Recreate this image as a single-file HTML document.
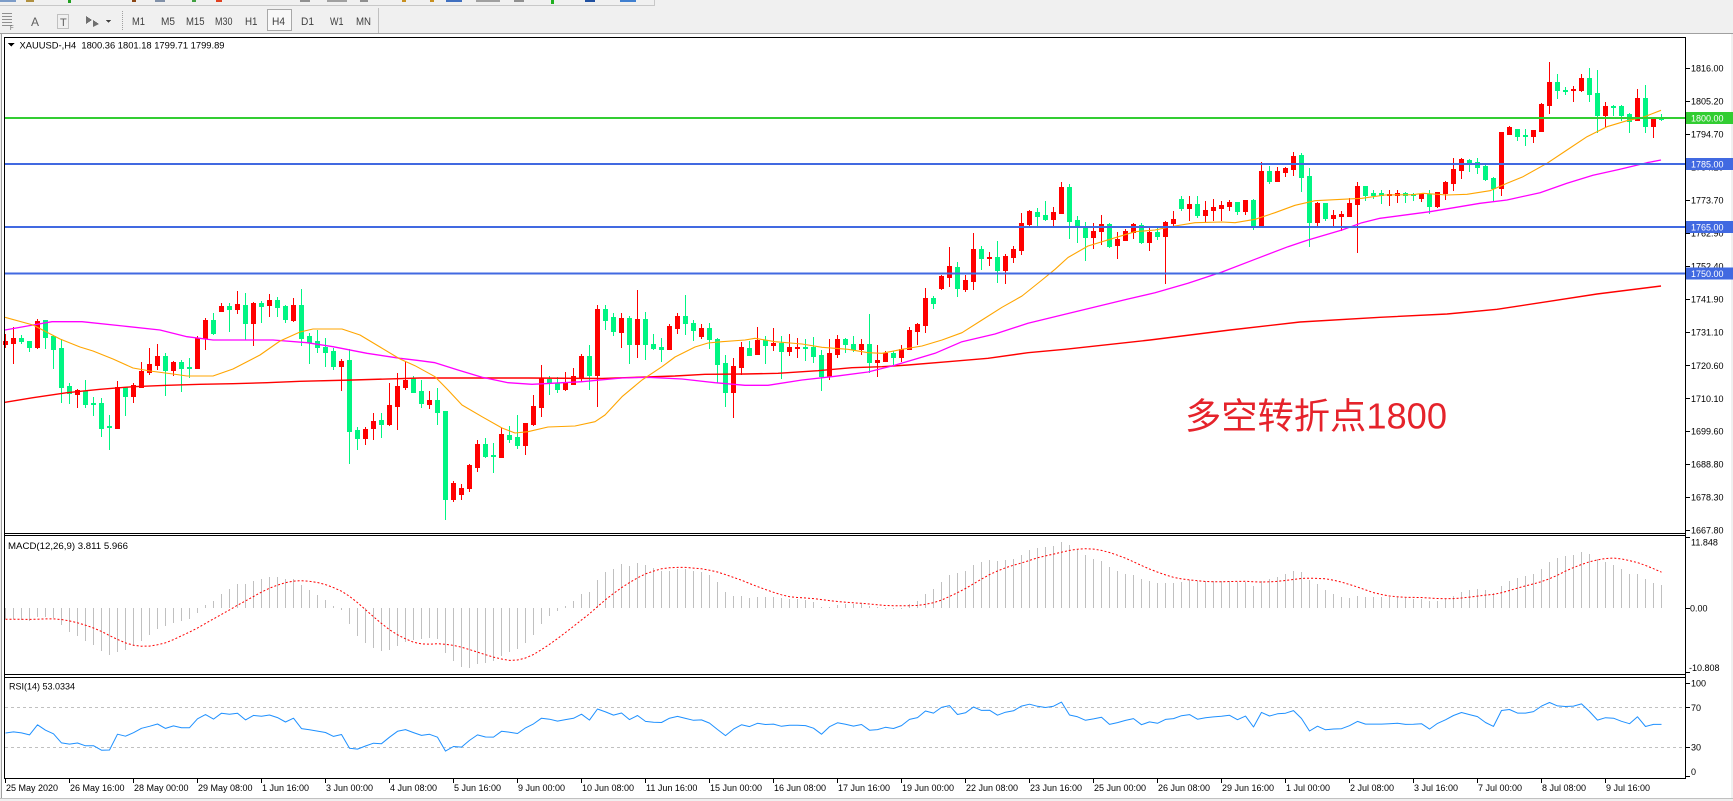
<!DOCTYPE html>
<html><head><meta charset="utf-8">
<style>
html,body{margin:0;padding:0;width:1733px;height:801px;overflow:hidden;background:#fff;}
svg{display:block;}
text{font-family:"Liberation Sans","Noto Sans CJK SC",sans-serif;}
</style></head>
<body>
<svg id="s" width="1733" height="801" xmlns="http://www.w3.org/2000/svg" shape-rendering="crispEdges">
<!-- toolbar -->
<rect x="0" y="0" width="1733" height="34" fill="#F0F0F0"/>
<line x1="0" y1="5.5" x2="654" y2="5.5" stroke="#C8C8C8"/>
<line x1="654.5" y1="0" x2="654.5" y2="6" stroke="#C8C8C8"/>
<rect x="0" y="0" width="16" height="2" fill="#7C9CC8"/>
<rect x="26" y="0" width="8" height="2" fill="#B09040"/>
<rect x="68" y="0" width="3" height="3" fill="#20A020"/>
<rect x="132" y="0" width="4" height="2" fill="#8B4513"/>
<rect x="155" y="0" width="10" height="2" fill="#8090A8"/>
<rect x="192" y="0" width="4" height="2" fill="#40A040"/>
<rect x="216" y="0" width="6" height="2" fill="#E04020"/>
<rect x="300" y="0" width="10" height="2" fill="#909090"/>
<rect x="327" y="0" width="20" height="2" fill="#A0A0A0"/>
<rect x="360" y="0" width="8" height="2" fill="#909090"/>
<rect x="402" y="0" width="4" height="2" fill="#C89020"/>
<rect x="430" y="0" width="4" height="2" fill="#C89020"/>
<rect x="446" y="0" width="16" height="2" fill="#4070C0"/>
<rect x="476" y="0" width="24" height="2" fill="#A0A0A0"/>
<rect x="514" y="0" width="10" height="2" fill="#909090"/>
<rect x="551" y="0" width="3" height="4" fill="#20B020"/>
<rect x="585" y="0" width="10" height="2" fill="#2050A0"/>
<rect x="620" y="0" width="16" height="2" fill="#4080D0"/>
<!-- second row -->
<g fill="#909090">
<rect x="2" y="13" width="10" height="1"/><rect x="2" y="16" width="10" height="1"/><rect x="2" y="19" width="10" height="1"/><rect x="2" y="22" width="10" height="1"/><rect x="2" y="25" width="10" height="1"/>
</g>
<text x="10" y="30" font-size="6" fill="#606060">F</text>
<text x="31" y="26" font-size="12" fill="#606060">A</text>
<rect x="57.5" y="14.5" width="11" height="14" fill="none" stroke="#909090" stroke-dasharray="1 1"/>
<text x="60" y="26" font-size="11" fill="#606060">T</text>
<path d="M86 16 L92 20 L86 24 Z M93 20 L99 24 L93 27 Z" fill="#707070"/>
<path d="M106 20 L111 20 L108.5 23 Z" fill="#404040"/>
<line x1="122.5" y1="11" x2="122.5" y2="31" stroke="#A0A0A0" stroke-dasharray="1 1"/>
<g font-size="11" fill="#404040">
<text x="132" y="25" textLength="13" lengthAdjust="spacingAndGlyphs">M1</text>
<text x="161" y="25" textLength="14" lengthAdjust="spacingAndGlyphs">M5</text>
<text x="186" y="25" textLength="18.5" lengthAdjust="spacingAndGlyphs">M15</text>
<text x="215" y="25" textLength="17.5" lengthAdjust="spacingAndGlyphs">M30</text>
<text x="245" y="25" textLength="12.5" lengthAdjust="spacingAndGlyphs">H1</text>
<rect x="267.5" y="9.5" width="24" height="21" fill="#F8F8F8" stroke="#A8A8A8"/>
<text x="272" y="25" textLength="13" lengthAdjust="spacingAndGlyphs">H4</text>
<text x="301" y="25" textLength="13" lengthAdjust="spacingAndGlyphs">D1</text>
<text x="330" y="25" textLength="13.5" lengthAdjust="spacingAndGlyphs">W1</text>
<text x="356" y="25" textLength="15" lengthAdjust="spacingAndGlyphs">MN</text>
</g>
<line x1="378.5" y1="8" x2="378.5" y2="33" stroke="#C0C0C0"/>
<line x1="0" y1="33.5" x2="1733" y2="33.5" stroke="#A0A0A0"/>
<!-- window edges -->
<rect x="0" y="34" width="1" height="767" fill="#F0F0F0"/>
<rect x="1" y="34" width="1" height="767" fill="#A0A0A0"/>
<rect x="1731" y="34" width="2" height="767" fill="#F0F0F0"/>
<rect x="0" y="798" width="1733" height="3" fill="#F0F0F0"/>
<line x1="0" y1="798.5" x2="1733" y2="798.5" stroke="#C0C0C0"/>

<g id="dyn"></g>

<!-- frames -->
<g stroke="#000" stroke-width="1" fill="none">
<line x1="4" y1="37.5" x2="1686" y2="37.5"/>
<line x1="4" y1="533.5" x2="1686" y2="533.5"/>
<line x1="4" y1="535.5" x2="1686" y2="535.5"/>
<line x1="4" y1="674.5" x2="1686" y2="674.5"/>
<line x1="4" y1="677.5" x2="1686" y2="677.5"/>
<line x1="4" y1="778.5" x2="1686" y2="778.5"/>
<line x1="4.5" y1="37" x2="4.5" y2="779"/>
<line x1="1685.5" y1="37" x2="1685.5" y2="779"/>
</g>

<!-- header texts -->
<path d="M8 43 L14.5 43 L11.25 46.7 Z" fill="#000"/>
<text x="19.5" y="48.3" font-size="9" fill="#000" textLength="205" lengthAdjust="spacingAndGlyphs">XAUUSD-,H4&#160;&#160;1800.36 1801.18 1799.71 1799.89</text>
<text x="8" y="549" font-size="9" fill="#000" textLength="120" lengthAdjust="spacingAndGlyphs">MACD(12,26,9) 3.811 5.966</text>
<text x="9" y="689.3" font-size="9" fill="#000">RSI(14) 53.0334</text>

<!-- price axis labels -->
<g font-size="9" fill="#000">
<text x="1691" y="71.6">1816.00</text>
<text x="1691" y="104.3">1805.20</text>
<text x="1691" y="137.6">1794.70</text>
<text x="1691" y="170.6">1784.20</text>
<text x="1691" y="203.6">1773.70</text>
<text x="1691" y="236.6">1762.90</text>
<text x="1691" y="269.6">1752.40</text>
<text x="1691" y="302.6">1741.90</text>
<text x="1691" y="335.6">1731.10</text>
<text x="1691" y="369">1720.60</text>
<text x="1691" y="402">1710.10</text>
<text x="1691" y="434.6">1699.60</text>
<text x="1691" y="467.6">1688.80</text>
<text x="1691" y="500.6">1678.30</text>
<text x="1691" y="533.6">1667.80</text>
<text x="1691" y="545.6">11.848</text>
<text x="1690" y="611.6">0.00</text>
<text x="1689" y="671">-10.808</text>
<text x="1691" y="686.6">100</text>
<text x="1691" y="711">70</text>
<text x="1691" y="750.3">30</text>
<text x="1691" y="775">0</text>
</g>
<g stroke="#000">
<line x1="1686" y1="68.5" x2="1690" y2="68.5"/><line x1="1686" y1="101.5" x2="1690" y2="101.5"/>
<line x1="1686" y1="134.5" x2="1690" y2="134.5"/><line x1="1686" y1="167.5" x2="1690" y2="167.5"/>
<line x1="1686" y1="200.5" x2="1690" y2="200.5"/><line x1="1686" y1="233.5" x2="1690" y2="233.5"/>
<line x1="1686" y1="266.5" x2="1690" y2="266.5"/><line x1="1686" y1="299.5" x2="1690" y2="299.5"/>
<line x1="1686" y1="332.5" x2="1690" y2="332.5"/><line x1="1686" y1="365.5" x2="1690" y2="365.5"/>
<line x1="1686" y1="398.5" x2="1690" y2="398.5"/><line x1="1686" y1="431.5" x2="1690" y2="431.5"/>
<line x1="1686" y1="464.5" x2="1690" y2="464.5"/><line x1="1686" y1="497.5" x2="1690" y2="497.5"/>
<line x1="1686" y1="530.5" x2="1690" y2="530.5"/>
<line x1="1686" y1="537.5" x2="1690" y2="537.5"/><line x1="1686" y1="608.5" x2="1690" y2="608.5"/>
<line x1="1686" y1="672.5" x2="1690" y2="672.5"/>
<line x1="1686" y1="683.5" x2="1690" y2="683.5"/><line x1="1686" y1="707.5" x2="1690" y2="707.5"/>
<line x1="1686" y1="747.5" x2="1690" y2="747.5"/><line x1="1686" y1="776.5" x2="1690" y2="776.5"/>
</g>

<!-- level boxes -->
<rect x="1686" y="112" width="47" height="12" fill="#32CD32"/>
<text x="1691" y="121.3" font-size="9" fill="#fff">1800.00</text>
<rect x="1686" y="158" width="47" height="12" fill="#4169E1"/>
<text x="1691" y="167.3" font-size="9" fill="#fff">1785.00</text>
<rect x="1686" y="221" width="47" height="12" fill="#4169E1"/>
<text x="1691" y="230.3" font-size="9" fill="#fff">1765.00</text>
<rect x="1686" y="267.5" width="47" height="12" fill="#4169E1"/>
<text x="1691" y="276.8" font-size="9" fill="#fff">1750.00</text>

<!-- time axis -->
<g font-size="9" fill="#000">
<text x="6" y="791">25 May 2020</text>
<text x="70" y="791">26 May 16:00</text>
<text x="134" y="791">28 May 00:00</text>
<text x="198" y="791">29 May 08:00</text>
<text x="262" y="791">1 Jun 16:00</text>
<text x="326" y="791">3 Jun 00:00</text>
<text x="390" y="791">4 Jun 08:00</text>
<text x="454" y="791">5 Jun 16:00</text>
<text x="518" y="791">9 Jun 00:00</text>
<text x="582" y="791">10 Jun 08:00</text>
<text x="646" y="791">11 Jun 16:00</text>
<text x="710" y="791">15 Jun 00:00</text>
<text x="774" y="791">16 Jun 08:00</text>
<text x="838" y="791">17 Jun 16:00</text>
<text x="902" y="791">19 Jun 00:00</text>
<text x="966" y="791">22 Jun 08:00</text>
<text x="1030" y="791">23 Jun 16:00</text>
<text x="1094" y="791">25 Jun 00:00</text>
<text x="1158" y="791">26 Jun 08:00</text>
<text x="1222" y="791">29 Jun 16:00</text>
<text x="1286" y="791">1 Jul 00:00</text>
<text x="1350" y="791">2 Jul 08:00</text>
<text x="1414" y="791">3 Jul 16:00</text>
<text x="1478" y="791">7 Jul 00:00</text>
<text x="1542" y="791">8 Jul 08:00</text>
<text x="1606" y="791">9 Jul 16:00</text>
</g>
<g id="ticks" stroke="#000"></g>

<!-- annotation -->
<text x="1185" y="428.5" font-size="36" fill="#E5232B" textLength="262" lengthAdjust="spacingAndGlyphs" shape-rendering="auto">多空转折点1800</text>
</svg>
<script>
(function(){
var NS="http://www.w3.org/2000/svg";
var g=document.getElementById('dyn');
function el(tag,a,parent){var e=document.createElementNS(NS,tag);for(var k in a)e.setAttribute(k,a[k]);(parent||g).appendChild(e);return e;}
var D=[
[1,334,340.7,343.7,347.3],[1,326.7,338,342.7,362.7],[0,335.3,338,341,343.3],[0,340.7,340.7,346.7,350.7],
[1,319.3,321,347,348],[0,320,320,336.7,347.7],[0,335,335.7,348.7,367.7],[0,339,348,386.7,401.7],
[0,383.3,386,392.7,402.7],[1,388.7,390,393.7,406.7],[0,380,390.7,404,407.3],[0,397,402.7,403.7,415],
[0,398,403,427.7,435.7],[0,415,425.7,427.3,449.3],[1,381,387,427.7,427.7],[0,386.7,387.3,395.7,414.7],
[1,383.3,385,395.7,401.7],[1,362,370.7,386.7,386.7],[1,348,364,371.7,373.7],[1,344,356,364.7,369.3],
[0,353.3,356,370,394.7],[1,361,362,369.7,375.3],[0,360,362,367.7,390.7],[0,358.3,367,367.7,377.3],
[1,336,337.7,367.7,367.7],[1,318.3,320,337.7,348.7],[0,313,320,332.7,334.3],[1,303.3,306,310.7,311],
[0,303.3,306,308.7,331],[1,291,304,308.7,313.3],[0,293,305,322.7,339],[1,301.7,303,322.7,344.7],
[0,301.3,303,305.7,321.7],[1,294,300,304.7,315.7],[0,297.3,300,306.7,316],[0,305,306,318.7,321.7],
[1,298,305,320,321.3],[0,289,305,337.7,344.7],[0,333.3,336,341.7,362.7],[0,330,341,346.7,352.3],
[0,338.3,346.7,351.7,365.7],[0,348,351,366,369],[1,359.3,361,366,389.7],[0,348.7,360,430.7,462.7],
[0,427.3,430.3,437.7,449],[1,426.7,429,437.7,443.7],[1,413.3,421,427.7,438.7],[0,413.3,420,423.7,436.7],
[1,383,405,424,425.3],[1,373.3,386,405.7,428.7],[1,361.3,380,386.7,389.3],[0,376,377.7,391.7,392],
[0,380,391,403.3,407.3],[1,391,400,403.7,407.7],[0,388.3,400,411.7,424.3],[0,411,411,498.7,519.3],
[1,481,483.3,498.7,501.3],[1,484.3,488.3,494.3,499.3],[1,464,465.3,488.3,490.7],[1,440,444,466.7,470.7],
[0,438.3,444,455.7,456.7],[0,443.3,455,456.3,472.3],[1,428.3,434,456.7,456.7],[0,426,435,438.7,441.7],
[0,415,437,444.7,447.7],[1,422.7,423,444.7,453.7],[1,395,406,424,425.3],[1,365,378.3,406.7,415.7],
[0,376,379,382,393.7],[0,377.3,382.7,388.7,391.7],[1,372,382,389,390],[1,367.7,376,383.7,383.7],
[1,354,356,376.7,381.3],[0,345,356,375,388.7],[1,305,309,375,405.7],[0,305,309.3,319.7,329.3],
[0,312.7,317,331.3,335],[1,313.3,318,331.7,346.7],[0,316,318,343.7,362.7],[1,290,319,343.7,357],
[0,312,319,343.7,358.7],[0,334,344,347.7,348.7],[0,338.3,347,348.7,360.7],[1,324,326,348.7,348.7],
[1,313.3,316,327.7,333.3],[0,295,316,323.3,334.3],[0,320,323,330,340],[1,324.3,328.3,335.7,337.7],
[0,323,328.3,339.3,347.7],[0,337.7,339,363.7,381.7],[0,355,363.3,391.7,406],[1,358.3,366,391.7,417.3],
[1,342,347,367,374.3],[0,341.3,348,354.7,355],[1,327,340,353.7,353.7],[0,336,340,344.7,362.7],
[1,328,343,344.7,350],[0,336,343,351,377.7],[1,334,347,351,355],[1,337.7,347,348,356.7],
[0,339,347,348,360],[0,337,347,355.7,361.7],[0,350,355,375.7,390],[1,339.3,353,375.7,379.3],
[1,335,339,353.7,356.7],[0,338,339,343.7,352],[0,336,343.7,349,351.3],[1,339,344,349,354],
[0,314,344,361.7,371.7],[1,345,360,361.7,375.7],[1,351,353.3,360.7,360.7],[0,351,353,356.7,364],
[1,345,349,356.7,360.7],[1,327,330,349,349],[1,323,324,330.7,344],[1,288,298,324.7,332],
[0,295.7,298,302.7,308],[1,275,276,288,289],[1,247,266,276.7,286],[0,262,267,288,296],
[1,275,280,288.7,291],[1,233,249,281,288.7],[0,246,249,258,269],[1,252,257,258,265],
[0,241,257,270,282],[1,254,256,270,283],[1,246,249,257.3,262.3],[1,213,223,250,254],
[1,210,211,224,226],[0,208,212,216,225],[0,201,214.7,219,220],[1,207,212,219,226],
[1,182,187,212.7,212.7],[0,183.7,187,220.7,237.7],[0,216,220,226,241.7],[0,222,227,236.7,259.7],
[1,223,231,236.7,247.7],[1,215,224,230.7,244],[0,223,224,246,247],[1,232,239,244.7,257.7],
[1,229,231,240,240],[1,223,224,232,238],[0,223,225,242,243],[1,226,232,241.7,250],
[0,226,232,236,239.3],[1,221,222,236,282.7],[1,211,219,223,226],[0,196,199,208,210],
[1,196,204,208,220],[0,196,204,215,217],[1,201,210,215,221],[1,199,207,210,220],
[1,201,205,208,220],[1,200,202,206,210],[0,202,202,210.7,214],[1,200,200,211,214],
[0,199,200,225.3,229],[1,162,171,226,226],[0,166,171,181,183],[1,167,171,181,181],
[1,167,168,172,176],[1,152,156,169,175],[0,153.3,155,177,191],[0,168,176,222,246],
[1,202,203,222,226],[0,203,203,218,220],[1,210,215,218,226],[1,211,214,216,230],
[1,198,203,216,216],[1,182,186,204,252],[0,186,186,195,200],[0,190,193,195,198],
[0,190,193,195,203],[1,190,193.7,194.7,204.7],[1,189.7,192.7,194.7,202],[0,192,192.7,195.3,202],
[0,192.7,194,194.7,200],[1,193.7,193.7,197.7,200.7],[0,190,193.7,205.7,212.7],[1,191.7,192,206,206.7],
[1,181,182,193,198.7],[1,157.7,169,182.7,189.7],[1,158,158.7,169.7,178.3],[0,158.7,159.7,162.7,170.7],
[0,157.7,162,166.7,172.7],[0,165,165.7,178.7,180],[0,176.7,177.7,187.7,200.7],[1,131.7,132,187.7,194.7],
[1,126.3,127,133.7,134],[0,128.7,128.7,135.7,139.7],[0,128.7,134.7,135.7,144.7],[1,129.7,129.7,135.7,141.7],
[1,103,104,130.7,130.7],[1,62,82,104.7,112.7],[0,73.7,82,89.7,97.7],[0,87.3,90,91,93.7],
[1,86,89,90,100.7],[1,73.7,77.7,89.7,90.7],[0,67.7,77.7,93.7,100.7],[0,70,92.7,115,132],
[1,102,106,115,126],[0,105,106,107.3,115],[0,105,106,115,120],[0,113,114,121.3,131.7],
[1,88.7,98,119.7,119.7],[0,84.7,98,126,131.7],[1,118,118.7,126,136.7],[0,114,117.7,118.7,120]
];
function cx(i){return 5+8*i;}
function R(v){return Math.round(v);}
var cg=el('g',{});
for(var i=0;i<D.length;i++){
  var d=D[i],x=cx(i),col=d[0]?'#FF0000':'#00F582';
  var wt=R(d[1]),wb=R(d[4]),bt=R(d[2]),bb=R(d[3]);
  el('rect',{x:x,y:wt,width:1,height:Math.max(1,wb-wt+1),fill:col},cg);
  var h=bb-bt; if(h<1){ if(!d[0]) col='#00FF00'; el('rect',{x:x-2,y:bt,width:5,height:1,fill:col},cg);} 
  else el('rect',{x:x-2,y:bt,width:5,height:h+1,fill:col},cg);
}
function poly(pts,col,w,parent,dash){
  var s=pts.map(function(p){return p[0]+','+p[1];}).join(' ');
  var a={points:s,fill:'none',stroke:col,'stroke-width':w,'shape-rendering':'auto','stroke-linejoin':'round'};
  if(dash)a['stroke-dasharray']=dash;
  return el('polyline',a,parent);
}
poly([[5,402.3],[33,397.7],[67,392.7],[100,389.3],[133,386.7],[167,385.3],[200,384.3],[233,383.7],[267,382.7],[300,381.3],[353,380],[420,378],[528,378],[602,378.5],[675,376],[705,374.3],[745,374],[778,373.3],[818,370.7],[852,367.7],[882,366.7],[908,365],[948,361.7],[988,358.3],[1028,352.7],[1065,349.3],[1150,340],[1230,330],[1300,322],[1380,317.3],[1447,314],[1497,309.3],[1547,301.7],[1597,294],[1661,286]],'#FF0000',1.4);
poly([[5,330],[33,325],[52,321.7],[82,321.7],[123,326],[160,330],[187,336.7],[213,340],[273,340],[307,342.7],[333,346.7],[367,353.3],[400,358.3],[420,360.7],[435,362.7],[458,370],[482,377.3],[508,382.7],[532,384.3],[582,381.7],[622,378],[648,377.3],[682,379],[715,382.7],[745,385.3],[768,385.3],[802,380],[835,376.3],[868,372],[892,366],[915,359.3],[935,353.3],[962,341.7],[995,334],[1028,323.3],[1065,314.3],[1127,299.3],[1155,292.7],[1188,283.3],[1222,272],[1255,259.3],[1288,246.7],[1308,240],[1342,230],[1362,222.7],[1380,218.3],[1430,211.7],[1480,203.3],[1507,200],[1540,192.7],[1567,183.3],[1593,175.3],[1620,169.3],[1647,162.7],[1661,160]],'#FF00FF',1.3);
poly([[5,317.3],[33,325],[60,339],[80,347],[93,351],[113,359],[133,368],[150,371],[173,374],[187,376],[213,376],[233,369],[260,355],[280,341],[300,332],[313,329],[342,329],[360,335],[380,347],[400,359],[415,365.7],[435,376.7],[448,390],[462,405],[482,416.7],[502,428],[515,433],[528,431.7],[548,427],[575,426],[595,421.7],[605,415],[622,396.7],[642,380],[662,366.7],[675,357],[695,347],[708,343],[722,341.7],[745,340],[755,338.3],[775,341.7],[802,344],[822,347.3],[848,349.3],[868,352.7],[882,353.3],[902,349.3],[922,346],[942,340],[962,332.7],[982,320],[1002,307.3],[1022,296],[1042,280],[1055,269.3],[1068,257.5],[1088,246],[1112,238.7],[1135,231.7],[1155,230],[1175,226],[1195,222.7],[1222,222],[1235,222.7],[1255,219.3],[1275,212.7],[1295,205.3],[1315,200.7],[1342,199.3],[1362,198.3],[1385,195],[1413,194.7],[1423,193.3],[1447,195],[1467,194.3],[1490,190.7],[1507,183.3],[1523,176.7],[1547,163.3],[1567,150],[1587,136.7],[1607,126.7],[1627,120.7],[1643,117.3],[1661,110.3]],'#FFA500',1.1);
el('rect',{x:5,y:117,width:1680,height:2,fill:'#32CD32'});
el('rect',{x:5,y:163,width:1680,height:2,fill:'#4169E1'});
el('rect',{x:5,y:226,width:1680,height:2,fill:'#4169E1'});
el('rect',{x:5,y:272.5,width:1680,height:2,fill:'#4169E1'});
function price(y){return 1816-(y-68.3)/3.117;}
var e12=1731.5,e26=1733.2,buf=[-1.8,-1.8,-1.8,-1.8,-1.8,-1.8,-1.8,-1.8];
var macd=[],sig=[],rsi=[];var ag=1.5,al=1.9,prev=null;
for(var i=0;i<D.length;i++){
  var d=D[i],c=price(d[0]?d[2]:d[3]);
  e12+=(c-e12)*2/13; e26+=(c-e26)*2/27;
  var m=e12-e26; macd.push(m); buf.push(m); if(buf.length>9)buf.shift();
  var s=0;for(var j=0;j<buf.length;j++)s+=buf[j]; sig.push(s/buf.length);
  if(prev!==null){var ch=c-prev;ag=(ag*13+Math.max(ch,0))/14;al=(al*13+Math.max(-ch,0))/14;}
  prev=c; rsi.push(100-100/(1+ag/al));
}
var z=608.3,k=6.09;
function my(v){var y=z-v*k;return Math.max(537,Math.min(673,y));}
var hg=el('g',{});
for(var i=0;i<D.length;i++){
  var y=my(macd[i]);var x=cx(i);
  var y1=Math.min(y,z),y2=Math.max(y,z);
  el('rect',{x:x,y:R(y1),width:1,height:Math.max(1,R(y2)-R(y1)),fill:'#C0C0C0'},hg);
}
poly(sig.map(function(v,i){return [cx(i)+0.5,my(v).toFixed(1)];}),'#FF0000',1,null,'2 2');
el('line',{x1:5,y1:707.5,x2:1685,y2:707.5,stroke:'#C0C0C0','stroke-dasharray':'3 3'});
el('line',{x1:5,y1:747.5,x2:1685,y2:747.5,stroke:'#C0C0C0','stroke-dasharray':'3 3'});
poly(rsi.map(function(v,i){return [cx(i)+0.5,(747-(v-30)*0.9925).toFixed(1)];}),'#1E90FF',1);
var tg=document.getElementById('ticks');
for(var t=0;t<26;t++){var tx=5+64*t+0.5;el('line',{x1:tx,y1:779,x2:tx,y2:783},tg);}
})();
</script>
</body></html>
